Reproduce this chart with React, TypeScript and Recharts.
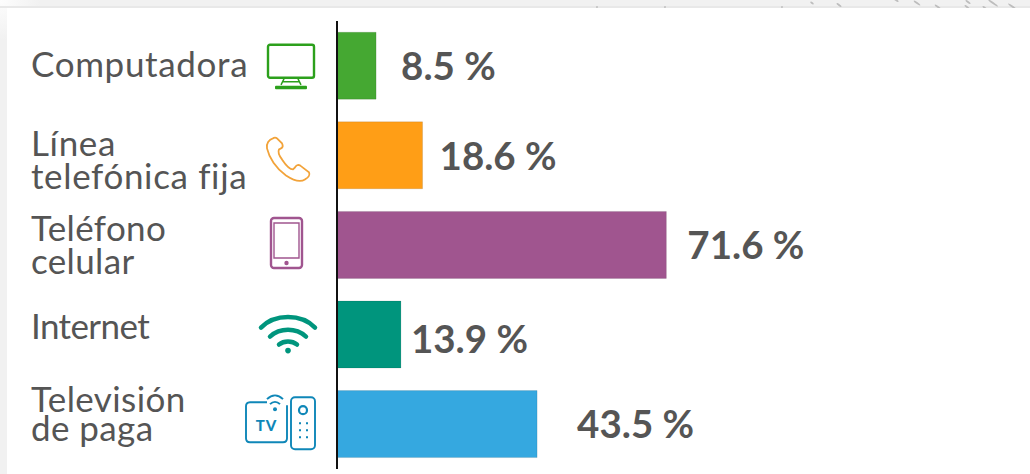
import { Bar, BarChart, Cell, LabelList, XAxis, YAxis } from "recharts";

const categories = ["Computadora", "Línea telefónica fija", "Teléfono celular", "Internet", "Televisión de paga"];
const percentages = [8.5, 18.6, 71.6, 13.9, 43.5];
const barColors = ["#45a832", "#ff9e16", "#a0558f", "#00957d", "#35a8e0"];

// the labels were placed by hand in the original, so each one has its own nudge
const labelNudgeX = [25, 17, 21, 10, 40];
const labelNudgeY = [1, 1, 1, 5, 0];
const tickLines = [["Computadora"], ["Línea", "telefónica fija"], ["Teléfono", "celular"], ["Internet"], ["Televisión", "de paga"]];
const tickNudgeY = [-1, 5, 0, -8, -10];
const tickLineHeight = [33, 33, 33, 33, 29];
const tickSpacing = [0.65, 0.65, 0.35, -0.6, 0.4];

// flecks of the photo behind the card, along its top edge
const flecks = [
  [597, 7, 1], [665, 7, 1], [782, 7, 1], [812, 3, 2], [839, 5, 3], [896, 0, 3], [917, 3, 4],
  [938, 7, 4], [968, 2, 3], [967, 7, 3], [985, 8, 3], [993, 3, 6], [1013, 7, 6],
];

const rows = categories.map((category, i) => ({ category, value: percentages[i], index: i }));

const TEXT_COLOR = "#555555";

function MonitorIcon() {
  return (
    <g transform="translate(267,-22)" fill="none" stroke="#2ca01c" strokeWidth={2.4}>
      <rect x={1} y={1} width={46} height={33} rx={2} />
      <path d="M17 35 L14 41 M31 35 L34 41 M15 38 H33" strokeWidth={1.5} />
      <rect x={8} y={42} width={32} height={3.5} fill="#2ca01c" stroke="none" rx={1} />
    </g>
  );
}

function PhoneIcon() {
  return (
    <g transform="translate(266,-18)" fill="none" stroke="#f2a33a" strokeWidth={1.8}>
      <path d="M7 1 C3 2 0 6 1 11 C3 20 10 31 20 38 C26 42 34 45 39 42 C43 40 44 37 43 35 L34 28 C32 27 30 28 29 30 L27 32 C24 32 20 28 16 22 C13 18 12 14 13 12 L15 11 C17 10 17 8 16 6 L11 1 C10 0 8 0 7 1 Z" />
    </g>
  );
}

function TabletIcon() {
  return (
    <g transform="translate(270,-28)" fill="none" stroke="#a0558f" strokeWidth={2.4}>
      <rect x={1} y={1} width={31} height={50} rx={3} />
      <path d="M4 6 H29 V41 H4 Z" strokeWidth={1.4} />
      <circle cx={16.5} cy={46} r={2.2} fill="#a0558f" stroke="none" />
    </g>
  );
}

function WifiIcon() {
  return (
    <g transform="translate(259,-21)" fill="none" stroke="#00957d" strokeWidth={4.5} strokeLinecap="round">
      <path d="M2 14 C16 0 42 0 56 14" />
      <path d="M11 23 C21 14 37 14 47 23" />
      <path d="M20 31 C25 27 33 27 38 31" />
      <circle cx={29} cy={37} r={2.8} fill="#00957d" stroke="none" />
    </g>
  );
}

function PayTvIcon() {
  return (
    <g transform="translate(245,-29)" fill="none" stroke="#0f87b8" strokeWidth={1.9}>
      <path d="M22 7 H5 C2 7 1 9 1 11 V43 C1 46 3 47 5 47 H38 C41 47 42 45 42 43 V10" />
      <path d="M22 4 C27 -1 33 -1 38 4 M25 9 C28 6 32 6 35 9" />
      <circle cx={30} cy={14} r={2} fill="#0f87b8" stroke="none" />
      <rect x={46} y={2} width={24} height={52} rx={4} />
      <circle cx={58} cy={15} r={4} strokeWidth={2.2} />
      <path d="M54 28 H63 M54 35 H63 M54 42 H63" strokeDasharray="2 5" strokeWidth={2} />
      <text x={21.5} y={36} textAnchor="middle" fontFamily="Lato" fontSize={15} fontWeight={900} letterSpacing={1} fill="#0f87b8" stroke="none">TV</text>
    </g>
  );
}

const icons = [MonitorIcon, PhoneIcon, TabletIcon, WifiIcon, PayTvIcon];

function CategoryTick({ y, index }: any) {
  const lines = tickLines[index];
  const lineHeight = tickLineHeight[index];
  const Icon = icons[index];
  const top = y + tickNudgeY[index] - ((lines.length - 1) * lineHeight) / 2;
  return (
    <g>
      <text y={top} dy="0.35em" fontFamily="Lato" fontSize={35} letterSpacing={tickSpacing[index]} fill={TEXT_COLOR}>
        {lines.map((line, i) => (
          <tspan key={line} x={31} y={top + i * lineHeight} dy="0.35em">
            {line}
          </tspan>
        ))}
      </text>
      <g transform={`translate(0,${y})`}>
        <Icon />
      </g>
    </g>
  );
}

function ValueLabel({ x, y, width, height, index, value }: any) {
  return (
    <text
      x={x + width + labelNudgeX[index]}
      y={y + height / 2 + labelNudgeY[index]}
      dy="0.35em"
      fontFamily="Lato"
      fontSize={38.5}
      fontWeight={700}
      fill={TEXT_COLOR}
    >
      {`${value.toFixed(1)} %`}
    </text>
  );
}

export default function App() {
  return (
    <div
      style={{
        position: "absolute",
        left: 0,
        top: 0,
        width: 1030,
        height: 474,
        background: "radial-gradient(circle at 0 0, #fdfdfd, #f1f1f1 40px)",
        overflow: "hidden",
      }}
    >
      <div style={{ position: "absolute", left: 0, top: 6, width: 1030, height: 2, background: "#e8e8e8" }} />
      <svg width={1030} height={10} style={{ position: "absolute", left: 0, top: 0 }}>
        {flecks.map(([cx, cy, rx]) => (
          <ellipse key={`${cx}-${cy}`} cx={cx} cy={cy} rx={rx} ry={1} fill="#bdbdbd" transform={`rotate(35 ${cx} ${cy})`} />
        ))}
      </svg>
      <div style={{ position: "absolute", left: 7, top: 8, width: 1023, height: 466, background: "#ffffff" }} />
      <div style={{ position: "absolute", left: 0, top: 0 }}>
        <BarChart
          width={1030}
          height={474}
          data={rows}
          layout="vertical"
          margin={{ top: 21, right: 233, bottom: 5, left: 0 }}
          barCategoryGap="12.5%"
        >
          <XAxis type="number" domain={[0, 100]} hide />
          <YAxis
            type="category"
            dataKey="category"
            width={337}
            interval={0}
            tickLine={false}
            axisLine={{ stroke: "#111111", strokeWidth: 2 }}
            tick={<CategoryTick />}
          />
          <Bar dataKey="value" isAnimationActive={false} stroke="rgba(0,0,0,0.1)">
            {rows.map((row) => (
              <Cell key={row.category} fill={barColors[row.index]} />
            ))}
            <LabelList dataKey="value" content={<ValueLabel />} />
          </Bar>
        </BarChart>
      </div>
    </div>
  );
}
